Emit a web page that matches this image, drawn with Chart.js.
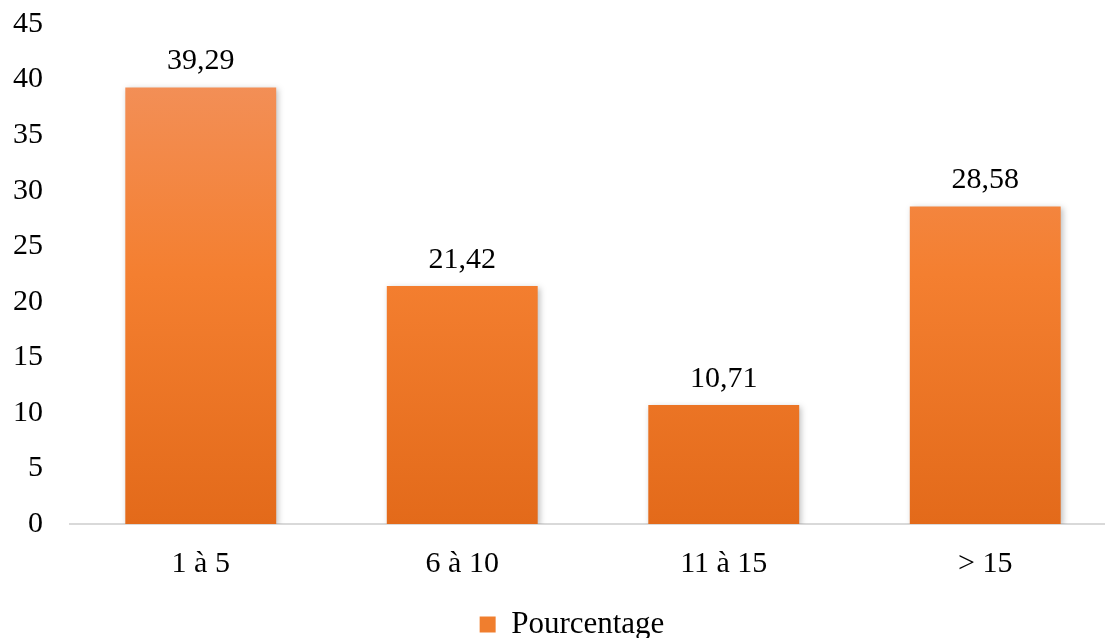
<!DOCTYPE html>
<html>
<head>
<meta charset="utf-8">
<script src="https://cdn.jsdelivr.net/npm/chart.js@4/dist/chart.umd.min.js"></script>
<style>
	html, body { margin: 0; padding: 0; background: #fff; overflow: hidden; }
	/* plot area runs past the right edge in the original, so the canvas is bigger than the window */
	#wrap { width: 1144px; height: 650px; }
</style>
</head>
<body>
<div id="wrap"><canvas id="myChart"></canvas></div>
<script>
// data
const categories = ['1 à 5', '6 à 10', '11 à 15', '> 15'];
const pourcentage = [39.29, 21.42, 10.71, 28.58];
const seriesName = 'Pourcentage';

const fontFamily = "'Liberation Serif', 'Times New Roman', serif";
const fontSize = 30;

// orange gradient, lighter on top
function barGradient(context) {
	const chart = context.chart;
	const area = chart.chartArea;
	if (!area) return '#F07E2E';
	const g = chart.ctx.createLinearGradient(0, area.top, 0, area.bottom);
	g.addColorStop(0, '#F29463');
	g.addColorStop(0.5, '#F47F30');
	g.addColorStop(1, '#E36A1A');
	return g;
}

// labels above each bar, with french decimal comma
const valueLabels = {
	id: 'valueLabels',
	afterDatasetsDraw(chart) {
		const ctx = chart.ctx;
		const meta = chart.getDatasetMeta(0);
		ctx.save();
		ctx.font = fontSize + 'px ' + fontFamily;
		ctx.fillStyle = '#000';
		ctx.textAlign = 'center';
		ctx.textBaseline = 'alphabetic';
		meta.data.forEach((bar, i) => {
			let txt = pourcentage[i].toFixed(2).replace('.', ',');
			ctx.fillText(txt, bar.x, bar.y - 18);
		});
		ctx.restore();
	}
};

// soft shadow behind bars
const barShadow = {
	id: 'barShadow',
	beforeDatasetsDraw(chart) {
		chart.ctx.save();
		chart.ctx.shadowColor = 'rgba(0,0,0,0.25)';
		chart.ctx.shadowBlur = 6;
		chart.ctx.shadowOffsetX = 2;
		chart.ctx.shadowOffsetY = 2;
	},
	afterDatasetsDraw(chart) {
		chart.ctx.restore();
	}
};

// legend sits a bit right of the canvas centre in the original
const legendShift = {
	id: 'legendShift',
	afterLayout(chart) {
		chart.legend.left += 14;
		chart.legend.right += 14;
	}
};

var ctx = document.getElementById('myChart').getContext('2d');

var chart = new Chart(ctx, {
	type: 'bar',
	data: {
		labels: categories,
		datasets: [
			{
				label: seriesName,
				data: pourcentage,
				backgroundColor: barGradient,
				borderWidth: 0,
				categoryPercentage: 0.577,
				barPercentage: 1,
			},
		],
	},
	plugins: [barShadow, valueLabels, legendShift],
	options: {
		responsive: true,
		maintainAspectRatio: false,
		animation: false,
		layout: {
			padding: { left: 0, right: 28, top: 24, bottom: 0 },
		},
		plugins: {
			tooltip: { enabled: false },
			legend: {
				position: 'bottom',
				labels: {
					font: { family: fontFamily, size: 31 },
					color: '#000',
					boxWidth: 16,
					boxHeight: 16,
					padding: 1,
					generateLabels: () => [{
						text: seriesName,
						fillStyle: '#F07E2E',
						strokeStyle: '#F07E2E',
						lineWidth: 0,
					}],
				},
			},
		},
		scales: {
			x: {
				afterFit: (scale) => { scale.height += 4; },
				grid: { display: false, drawTicks: false },
				border: { display: true, color: '#D9D9D9', width: 2 },
				ticks: {
					font: { family: fontFamily, size: fontSize },
					color: '#000',
					padding: 22,
				},
			},
			y: {
				min: 0,
				max: 45,
				afterFit: (scale) => {
					scale.width = 70;
					scale.paddingTop = 0;
					scale.paddingBottom = 0;
				},
				grid: { display: false, drawTicks: false },
				border: { display: false },
				ticks: {
					stepSize: 5,
					font: { family: fontFamily, size: fontSize },
					color: '#000',
					padding: 27,
				},
			},
		},
	},
});
</script>
</body>
</html>
